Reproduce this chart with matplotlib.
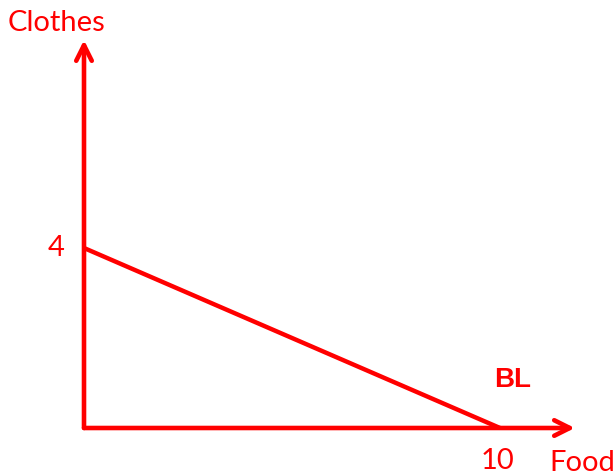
import numpy as np
import matplotlib.pyplot as plt

# budget line data
food_max = 10
clothes_max = 4
food = [0, food_max]
clothes = [clothes_max, 0]
x_label = 'Food'
y_label = 'Clothes'
line_label = 'BL'

red = '#ff0000'
plt.rcParams['font.family'] = ['Lato', 'DejaVu Sans']

fig = plt.figure(figsize=(6.16, 4.76), dpi=100)
ax = fig.add_axes([0, 0, 1, 1])
# pixel mapping: x=0 at 84px, x=10 at 500px ; y=0 at 428px, y=4 at 248px
sx = 41.6
sy = 45.0
ax.set_xlim(-84 / sx, (616 - 84) / sx)
ax.set_ylim(-48 / sy, 428 / sy)
ax.axis('off')

# axes with arrows
x_end = 11.8
y_end = 8.62
ax.annotate('', xy=(x_end, 0), xytext=(0, 0),
            arrowprops=dict(arrowstyle='->', color=red, lw=3.3, mutation_scale=28,
                            shrinkA=0, shrinkB=0))
ax.annotate('', xy=(0, y_end), xytext=(0, 0),
            arrowprops=dict(arrowstyle='->', color=red, lw=3.3, mutation_scale=28,
                            shrinkA=0, shrinkB=0))

# budget line
ax.plot(food, clothes, color=red, lw=3.2, solid_capstyle='butt')

fs = 21
ax.text(-27.5 / sx, 397 / sy, y_label, color=red, fontsize=fs, ha='center', va='baseline')
ax.text(-28 / sx, clothes_max, str(clothes_max), color=red, fontsize=fs, ha='center', va='center')
ax.text(food_max - 3 / sx, -33 / sy, str(food_max), color=red, fontsize=fs, ha='center', va='center')
ax.text(11.18, -35 / sy, x_label, color=red, fontsize=fs, ha='left', va='center')
ax.text(food_max + 13 / sx, 48 / sy, line_label, color=red, fontsize=20, fontweight='bold',
        family='Liberation Sans', ha='center', va='center')

fig.savefig('out.png', dpi=100)
